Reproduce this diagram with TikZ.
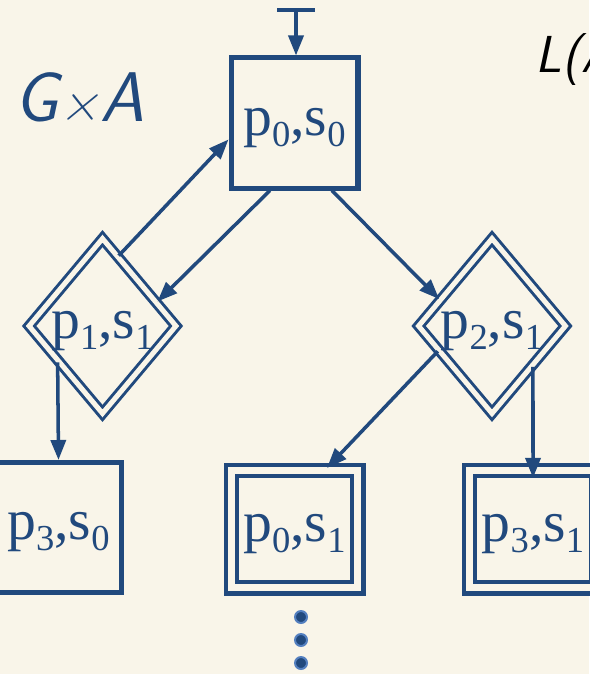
\documentclass[tikz,border=0pt]{standalone}
\usepackage{fontspec}
\setmainfont{Liberation Serif}
\newfontfamily\statefont{Liberation Serif}
\usetikzlibrary{arrows.meta,shapes.geometric}
\definecolor{ink}{RGB}{33,73,125}
\definecolor{paper}{RGB}{249,245,233}
\definecolor{dotring}{RGB}{84,128,192}
\newcommand{\ix}[1]{\raisebox{-8pt}{\fontsize{26}{26}\selectfont #1}}
\newcommand{\pstate}[2]{p\ix{#1},s\ix{#2}}
\tikzset{
  state/.style={draw=ink, text=ink, font=\statefont\fontsize{41}{41}\selectfont,
    inner sep=0pt, text height=25.6pt, text depth=8.5pt},
  plainbox/.style={state, rectangle, line width=3.56pt,
    minimum width=90.3pt, minimum height=92.5pt},
  accbox/.style={state, rectangle, line width=2.85pt, double=paper,
    double distance=4.98pt, minimum width=90.3pt, minimum height=83.9pt},
  accdiam/.style={state, diamond, aspect=0.84, line width=2.13pt, double=paper,
    double distance=3.56pt, minimum width=105.3pt, minimum height=125.2pt},
  arr/.style={draw=ink, line width=2.5pt, -{Triangle[length=14.2pt,width=10.7pt]}},
  hand/.style={font=\sffamily\itshape\fontsize{50}{50}\selectfont, anchor=base west}
}
\begin{document}
\begin{tikzpicture}[x=0.025cm, y=-0.025cm]
\fill[paper] (0,0) rectangle (589,674);
\useasboundingbox (0,0) rectangle (589,674);

% titles
\node[hand, text=ink] (gxa) at (10,122) {G{\fontsize{40}{40}\selectfont ×}A};
\node[hand, font=\sffamily\itshape\fontsize{37}{37}\selectfont] (lang) at (531,73) {L(A};

% states of the product
\node[plainbox] (p0s0) at (294.5,123) {\pstate00};
\node[accdiam] (p1s1) at (102.5,326) {\pstate11};
\node[accdiam] (p2s1) at (492,326) {\pstate21};
\node[plainbox] (p3s0) at (58.5,527.5) {\pstate30};
\node[accbox] (p0s1) at (294.5,529) {\pstate01};
\node[accbox] (p3s1) at (533,529) {\pstate31};

% initial arrow
\coordinate (init) at (296,10);
\draw[ink, line width=2.85pt] (init) ++(-19,0) -- ++(38,0);
\draw[arr] (init) -- (init |- p0s0.north);

% transitions
\draw[arr] (p0s0.250) -- (p1s1.24);
\draw[arr] (p1s1.77) -- (p0s0.194);
\draw[arr] (p0s0.-61) -- (p2s1.153);
\draw[arr] (p1s1.219) -- (p3s0.north);
\draw[arr] (p2s1.205) -- (p0s1.62);
\draw[arr, shorten >=-7pt] (p2s1.-45) -- (p3s1.north);

% more below
\foreach \y in {617,640,663}
  \filldraw[fill=ink, draw=dotring, line width=1.4pt] (301,\y) circle[radius=6];
\end{tikzpicture}
\end{document}
